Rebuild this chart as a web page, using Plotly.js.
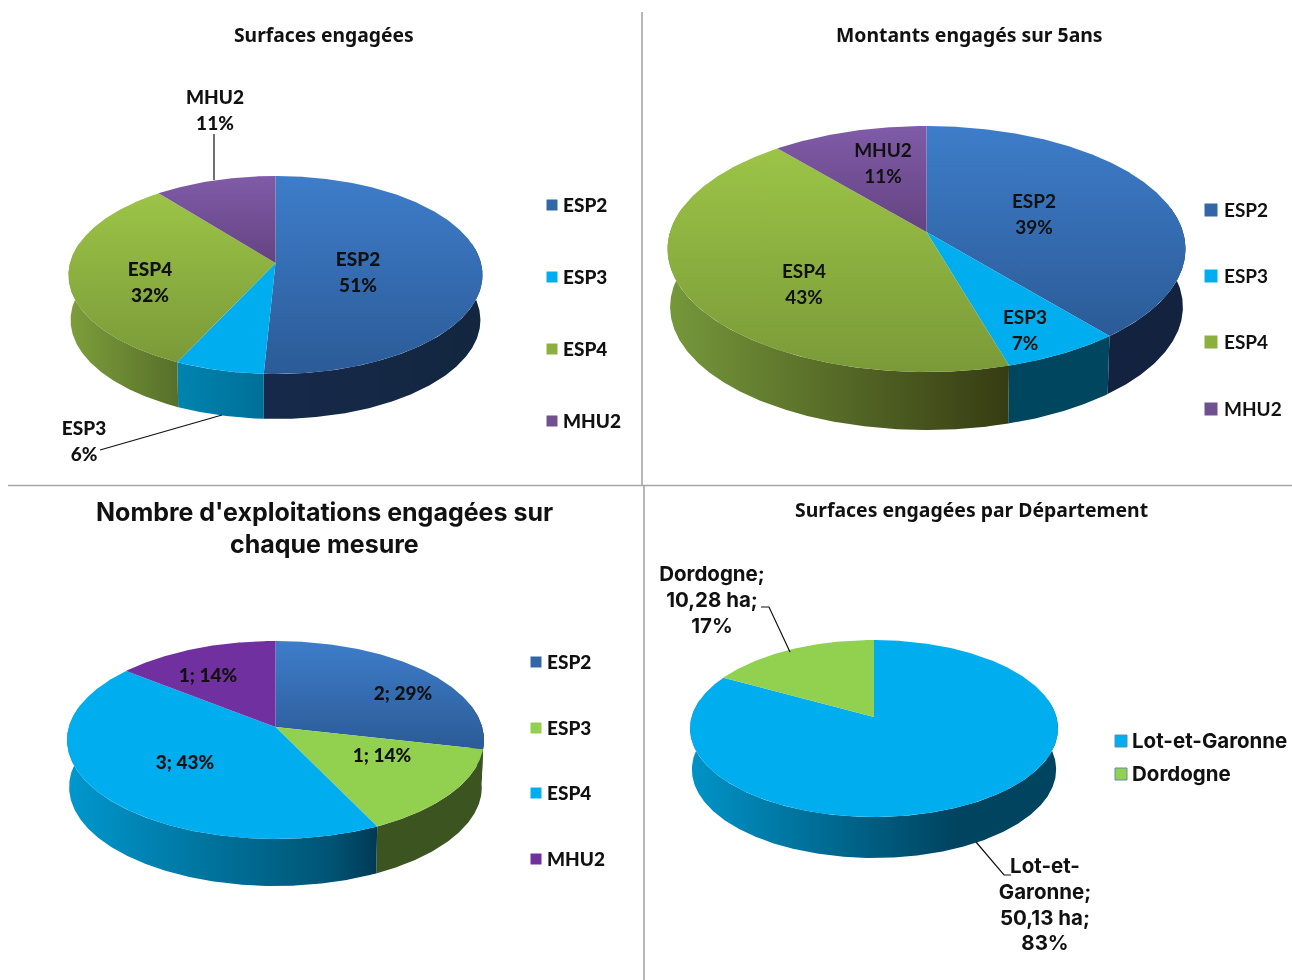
<!DOCTYPE html>
<html>
<head>
<meta charset="utf-8">
<script src="https://cdn.plot.ly/plotly-3.0.1.min.js"></script>
<style>html,body{margin:0;padding:0;background:#fff}#chart{width:1292px;height:980px;filter:blur(0.4px)}</style>
</head>
<body>
<div id="chart"></div>
<script>
// ---- data ----
const surfaceCategories = ['ESP2', 'ESP3', 'ESP4', 'MHU2'];
const surfaceShares = [50.8, 6.2, 32.3, 10.7];
const surfaceLabels = ['51%', '6%', '32%', '11%'];

const montantCategories = ['ESP2', 'ESP3', 'ESP4', 'MHU2'];
const montantShares = [39, 6.5, 43.4, 11.1];
const montantLabels = ['39%', '7%', '43%', '11%'];

const exploitationCategories = ['ESP2', 'ESP3', 'ESP4', 'MHU2'];
const exploitationCounts = [2, 1, 3, 1];
const exploitationLabels = ['2; 29%', '1; 14%', '3; 43%', '1; 14%'];

const departementCategories = ['Lot-et-Garonne', 'Dordogne'];
const departementHectares = [50.13, 10.28];
const departementLabels = ['50,13 ha;', '10,28 ha;'];
const departementPercents = ['83%', '17%'];

const chartTitles = ['Surfaces engagées', 'Montants engagés sur 5ans', "Nombre d'exploitations engagées sur", 'chaque mesure', 'Surfaces engagées par Département'];

// ---- styles ----
const BLUE = {top: ['#3E7DCA', '#2B5B97'], legend: '#3366A6'};
const CYAN = {top: ['#00AEEF', '#00AEEF'], legend: '#00AEEF'};
const OLIVE = {top: ['#9CC447', '#7A9A38'], legend: '#8CB040'};
const VIOLET = {top: ['#805BA8', '#644381'], legend: '#71508F'};
const LIME = {top: ['#92D050', '#92D050'], legend: '#92D050'};
const PURPLE = {top: ['#7030A0', '#7030A0'], legend: '#7030A0'};
const FONT = 'Lato, "Open Sans", sans-serif';
const WIDE_FONT = 'Inter, Lato, sans-serif';
const TITLE_FONT = '"Noto Sans", "Open Sans", sans-serif';

const panels = [
  {cats: surfaceCategories, vals: surfaceShares, geom: {cx: 275.5, apex: 263, top: 176, bot: 374, half: 207, depth: 45, shrink: 0.99},
   fills: [BLUE, CYAN, OLIVE, VIOLET],
   walls: [[[0, '#16294A'], [1, '#13263F']], [[0, '#0084B0'], [1, '#006F97']], [[0, '#7E9E3B'], [1, '#56702A']], [[0, '#5C3F7A'], [1, '#5C3F7A']]],
   legendX: 552, legendTextX: 563, legendY: [205, 277, 349, 421], legendSize: 11, legendFont: FONT, legendWeight: 900},
  {cats: montantCategories, vals: montantShares, geom: {cx: 926.5, apex: 232, top: 126, bot: 372, half: 259, depth: 58, shrink: 0.99},
   fills: [BLUE, CYAN, OLIVE, VIOLET],
   walls: [[[0, '#13233F'], [1, '#13233F']], [[0, '#00465F'], [1, '#00465F']], [[0, '#76983B'], [1, '#363C12']], [[0, '#5C3F7A'], [1, '#5C3F7A']]],
   legendX: 1211, legendTextX: 1224, legendY: [210, 276, 342, 409], legendSize: 13, legendFont: FONT, legendWeight: 700},
  {cats: exploitationCategories, vals: exploitationCounts, geom: {cx: 275.5, apex: 727, top: 641, bot: 839, half: 208.5, depth: 47, shrink: 0.99},
   fills: [BLUE, LIME, CYAN, PURPLE],
   walls: [[[0, '#16294A'], [1, '#13263F']], [[0, '#3C5420'], [1, '#3C5420']], [[0, '#0098CE'], [0.85, '#005474'], [1, '#003A55']], [[0, '#4A1F6B'], [1, '#4A1F6B']]],
   legendX: 536, legendTextX: 547, legendY: [662, 728, 793, 859], legendSize: 11, legendFont: FONT, legendWeight: 900},
  {cats: departementCategories, vals: departementHectares, geom: {cx: 874, apex: 717, top: 640, bot: 817, half: 184, depth: 41, shrink: 0.99},
   fills: [CYAN, LIME],
   walls: [[[0, '#0094C8'], [0.72, '#004460'], [1, '#004460']], [[0, '#3C5420'], [1, '#3C5420']]],
   legendX: 1121, legendTextX: 1132, legendY: [741, 774], legendSize: 12, legendFont: WIDE_FONT, legendWeight: 700, legendBorder: '#5b8fa8', legendTextSize: 20.5}
];

// Label anchors in the pixel-sized plot frame: [x, y, text]
const heavyLabels = [
  [215, 99, surfaceCategories[3]], [215, 125, surfaceLabels[3]],
  [358, 261, surfaceCategories[0]], [358, 287, surfaceLabels[0]],
  [150, 271, surfaceCategories[2]], [150, 297, surfaceLabels[2]],
  [84, 430, surfaceCategories[1]], [84, 456, surfaceLabels[1]],
  [403, 695, exploitationLabels[0]], [382, 757, exploitationLabels[1]],
  [185, 764, exploitationLabels[2]], [208, 677, exploitationLabels[3]]
];
const mediumLabels = [
  [883, 152, montantCategories[3]], [883, 178, montantLabels[3]],
  [1034, 203, montantCategories[0]], [1034, 229, montantLabels[0]],
  [804, 273, montantCategories[2]], [804, 299, montantLabels[2]],
  [1025, 319, montantCategories[1]], [1025, 345, montantLabels[1]]
];
const wideLabels = [
  [712, 576, 'Dordogne;'], [712, 602, departementLabels[1]], [712, 628, departementPercents[1]],
  [1045, 868, 'Lot-et-'], [1045, 894, 'Garonne;'], [1045, 920, departementLabels[0]], [1045, 945, departementPercents[0]]
];

const leaders = [
  [[214, 214], [134, 180]],
  [[100, 222], [450, 415]],
  [[761, 769, 790], [607, 607, 652]],
  [[976, 1004, 1011], [842, 875, 875]]
];

// ---- perspective-pie geometry ----
function projector(g) {
  const f = g.bot - g.apex, b = g.apex - g.top;
  const k = (b - f) / (f + b), scaleY = f * (1 + k), scaleX = g.half * Math.sqrt(1 - k * k);
  return function (deg, low) {
    const t = deg * Math.PI / 180, X = Math.sin(t), Y = -Math.cos(t), d = 1 / (1 + k * Y);
    let x = scaleX * X * d, y = g.apex + scaleY * Y * d;
    if (low) { x *= g.shrink; y += g.depth; }
    return [g.cx + x, y];
  };
}
function arc(proj, a, b, low) {
  const n = Math.max(2, Math.ceil(Math.abs(b - a) * 2)), out = [];
  for (let i = 0; i <= n; i++) out.push(proj(a + (b - a) * i / n, low));
  return out;
}
const wallTraces = [], topTraces = [], legendTraces = [];
panels.forEach(function (p) {
  const proj = projector(p.geom), total = p.vals.reduce((s, v) => s + v, 0);
  let acc = 0;
  p.vals.forEach(function (v, i) {
    const a = acc / total * 360, b = (acc + v) / total * 360;
    acc += v;
    const wa = Math.max(a, 78), wb = Math.min(b, 282);
    if (wb > wa) {
      const pts = arc(proj, wa, wb, false).concat(arc(proj, wb, wa, true));
      pts.push(pts[0]);
      const xs = pts.map(q => q[0]);
      wallTraces.push({type: 'scatter', mode: 'lines', x: xs, y: pts.map(q => q[1]), fill: 'toself',
        line: {width: 0}, hoverinfo: 'skip', showlegend: false,
        fillgradient: {type: 'horizontal', start: Math.min.apply(null, xs), stop: Math.max.apply(null, xs), colorscale: p.walls[i]}});
    }
    const pts = [[p.geom.cx, p.geom.apex]].concat(arc(proj, a, b, false));
    pts.push(pts[0]);
    const ys = pts.map(q => q[1]), fill = p.fills[i];
    topTraces.push({type: 'scatter', mode: 'lines', x: pts.map(q => q[0]), y: ys, fill: 'toself',
      name: p.cats[i], line: {width: 0}, hoverinfo: 'name', showlegend: false,
      fillgradient: {type: 'vertical', start: Math.min.apply(null, ys), stop: Math.max.apply(null, ys),
        colorscale: [[0, fill.top[0]], [1, fill.top[1]]]}});
  });
  legendTraces.push({type: 'scatter', mode: 'markers', x: p.cats.map(() => p.legendX), y: p.legendY,
    marker: {symbol: 'square', size: p.legendSize, color: p.fills.map(f => f.legend), line: {width: p.legendBorder ? 1 : 0, color: p.legendBorder || '#fff'}},
    hoverinfo: 'skip', showlegend: false});
  legendTraces.push({type: 'scatter', mode: 'text', x: p.cats.map(() => p.legendTextX), y: p.legendY.map(y => y + 2), text: p.cats,
    textposition: 'middle right', textfont: {family: p.legendFont, size: p.legendTextSize || 19, color: '#111', weight: p.legendWeight},
    hoverinfo: 'skip', showlegend: false});
});
const leaderTraces = leaders.map(l => ({type: 'scatter', mode: 'lines', x: l[0], y: l[1],
  line: {color: '#111', width: 1.2}, hoverinfo: 'skip', showlegend: false}));
function labelTrace(rows, family, size, weight) {
  return {type: 'scatter', mode: 'text', x: rows.map(l => l[0]), y: rows.map(l => l[1]), text: rows.map(l => l[2]),
    textposition: 'middle center', textfont: {family: family, size: size, color: '#111', weight: weight}, hoverinfo: 'skip', showlegend: false};
}
function titleNote(x, y, text, family, size, weight) {
  return {xref: 'x', yref: 'y', x: x, y: y, text: text, showarrow: false, xanchor: 'center', yanchor: 'middle',
    font: {family: family, size: size, color: '#111', weight: weight}};
}
function rule(x0, y0, x1, y1) {
  return {type: 'line', xref: 'x', yref: 'y', x0: x0, y0: y0, x1: x1, y1: y1, line: {color: '#a6a6a6', width: 1.6}};
}
const layout = {
  width: 1292, height: 980, margin: {l: 0, r: 0, t: 0, b: 0}, paper_bgcolor: '#fff', plot_bgcolor: '#fff', showlegend: false,
  xaxis: {range: [0, 1292], visible: false, fixedrange: true},
  yaxis: {range: [980, 0], visible: false, fixedrange: true},
  shapes: [rule(642, 12, 642, 485), rule(8, 485.5, 1292, 485.5), rule(644, 485, 644, 980)],
  annotations: [
    titleNote(323.5, 34.5, chartTitles[0], TITLE_FONT, 19.3, 700),
    titleNote(969, 34.5, chartTitles[1], TITLE_FONT, 19.4, 700),
    titleNote(324, 512, chartTitles[2], WIDE_FONT, 25, 700),
    titleNote(324, 544, chartTitles[3], WIDE_FONT, 25, 700),
    titleNote(971, 509.5, chartTitles[4], TITLE_FONT, 19.4, 700)
  ]
};
Plotly.newPlot('chart', wallTraces.concat(topTraces, leaderTraces,
  [labelTrace(heavyLabels, FONT, 19, 900), labelTrace(mediumLabels, FONT, 19, 700), labelTrace(wideLabels, WIDE_FONT, 20.5, 700)],
  legendTraces), layout, {displayModeBar: false, responsive: false});
</script>
</body>
</html>
